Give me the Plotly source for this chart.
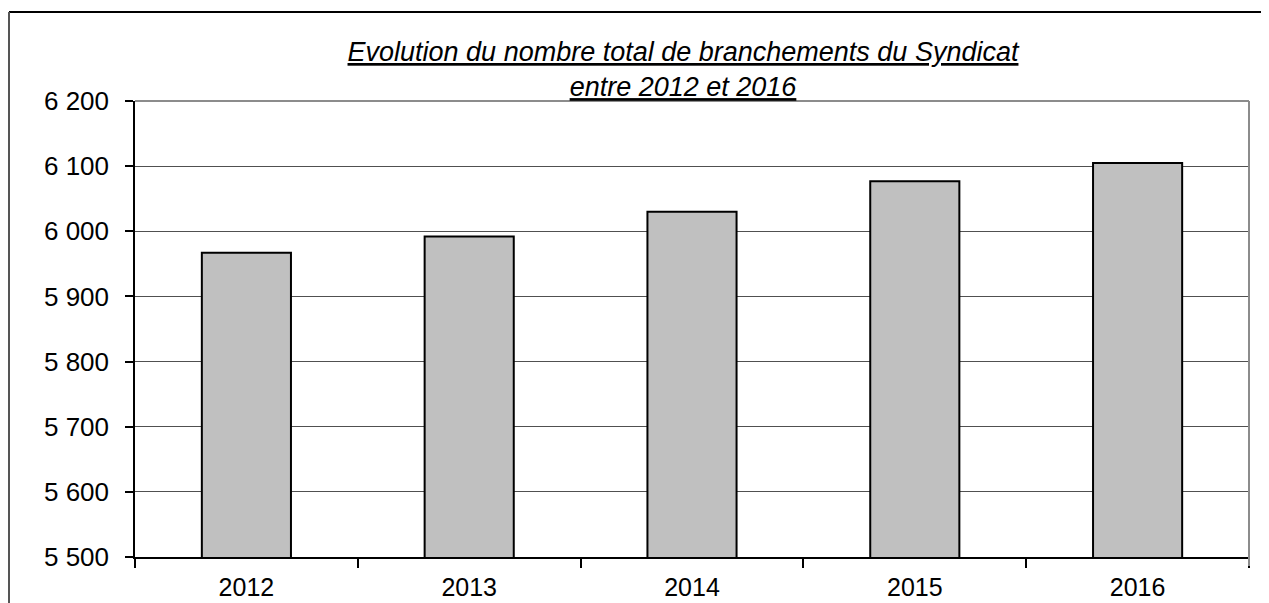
import plotly.graph_objects as go

years = ["2012", "2013", "2014", "2015", "2016"]
branchements = [5967, 5992, 6030, 6077, 6105]
title_lines = ["Evolution du nombre total de branchements du Syndicat", "entre 2012 et 2016"]

# the page body has an 8px margin, so the figure is offset by 8px
OFF = 8
W, H = 1269 - OFF, 603 - OFF
L, R, T, B = 135 - OFF, 20, 101 - OFF, 46
pw, ph = W - L - R, H - T - B

def px_x(p):  # screen pixel -> paper x
    return (p - OFF - L) / pw

def px_y(p):  # screen pixel -> paper y
    return (H - B - (p - OFF)) / ph

fig = go.Figure()
fig.add_trace(go.Bar(
    x=years, y=branchements,
    marker=dict(color="#c0c0c0", line=dict(color="#000000", width=2)),
    hoverinfo="x+y",
))

font_family = "Liberation Sans, Arial, sans-serif"

fig.update_layout(
    width=W, height=H,
    margin=dict(l=L, r=R, t=T, b=B, autoexpand=False),
    paper_bgcolor="white", plot_bgcolor="white",
    bargap=0.6,
    showlegend=False,
    separators=", ",
    font=dict(family=font_family, size=26, color="#000000"),
    title=dict(
        text="<br>".join("<i><u>%s</u></i>" % t for t in title_lines),
        x=px_x(683), xref="paper", xanchor="center",
        y=1 - 53 / H, yref="container", yanchor="top",
        font=dict(family=font_family, size=27, color="#000000"),
    ),
    xaxis=dict(
        type="category",
        automargin=False,
        showline=True, linecolor="#000000", linewidth=1.5,
        ticks="outside", ticklen=9, tickcolor="#000000", tickwidth=1.5,
        tickson="boundaries",
        showgrid=False,
        ticklabelstandoff=7,
        tickfont=dict(family=font_family, size=25),
    ),
    yaxis=dict(
        automargin=False,
        range=[5500, 6200], dtick=100, tick0=5500,
        tickformat=",d",
        showline=True, linecolor="#000000", linewidth=1.5,
        ticks="outside", ticklen=8, tickcolor="#000000", tickwidth=1.5,
        showgrid=True, gridcolor="#505050", gridwidth=1,
        zeroline=False,
        ticklabelstandoff=11,
        tickfont=dict(family=font_family, size=26),
    ),
    shapes=[
        # plot area top and right gray border
        dict(type="line", xref="paper", yref="paper", x0=0, x1=1, y0=1, y1=1,
             line=dict(color="#8c8c8c", width=2), layer="above"),
        dict(type="line", xref="paper", yref="paper", x0=1, x1=1, y0=px_y(566), y1=1,
             line=dict(color="#8c8c8c", width=2), layer="above"),
        # outer chart border
        dict(type="line", xref="paper", yref="paper", x0=px_x(9), x1=px_x(1280), y0=px_y(12), y1=px_y(12),
             line=dict(color="#000000", width=2), layer="above"),
        dict(type="line", xref="paper", yref="paper", x0=px_x(9), x1=px_x(9), y0=px_y(12), y1=px_y(620),
             line=dict(color="#555555", width=2), layer="above"),
    ],
)

fig.write_html("out.html")
